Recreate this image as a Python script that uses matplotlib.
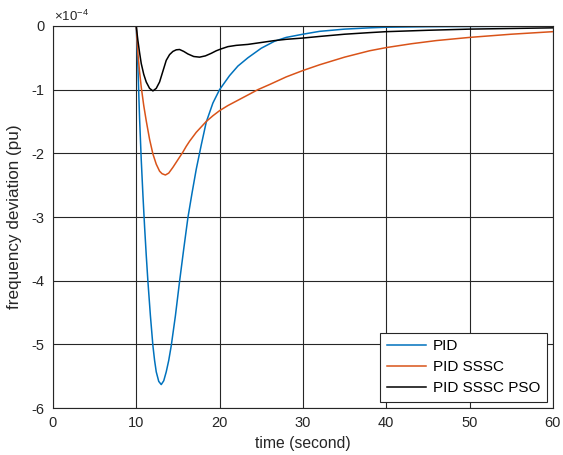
import matplotlib.pyplot as plt
import numpy as np

plt.rcParams['font.family'] = ['Liberation Sans', 'DejaVu Sans']
plt.rcParams['axes.unicode_minus'] = False
plt.rcParams['mathtext.fontset'] = 'custom'
plt.rcParams['mathtext.rm'] = 'Liberation Sans'
plt.rcParams['mathtext.it'] = 'Liberation Sans'

# frequency deviation values (x1e-4 pu)
t_pid = [0, 10, 10.2, 10.4, 10.6, 10.8, 11.0, 11.2, 11.4, 11.7, 12.0, 12.2, 12.4, 12.7,
         13.0, 13.3, 13.6, 13.9, 14.2, 14.7, 15.2, 15.7, 16.2, 16.7, 17.2, 17.8, 18.4,
         19.2, 20.0, 21.2, 22.2, 23.4, 25.0, 26.6, 28.0, 30, 32, 35, 38, 40, 45, 50, 55, 60]
pid = [0, 0, -0.65, -1.45, -2.1, -2.65, -3.15, -3.6, -4.01, -4.55, -5.02, -5.25, -5.43, -5.58,
       -5.63, -5.57, -5.43, -5.25, -5.02, -4.55, -4.01, -3.5, -3.01, -2.62, -2.25, -1.87, -1.51,
       -1.21, -1.0, -0.78, -0.63, -0.50, -0.35, -0.24, -0.18, -0.13, -0.085, -0.05, -0.03, -0.02,
       -0.012, -0.008, -0.005, -0.004]

t_sssc = [0, 10, 10.2, 10.4, 10.6, 10.9, 11.2, 11.6, 12.0, 12.4, 12.8, 13.1, 13.5, 13.9,
          14.4, 15.0, 15.6, 16.0, 16.4, 17.2, 18.4, 19.2, 20.0, 21.0, 22.3, 23.6, 24.6, 26, 28,
          30, 32, 35, 38, 40, 43, 46, 50, 55, 60]
sssc = [0, 0, -0.44, -0.72, -0.96, -1.25, -1.49, -1.78, -2.01, -2.17, -2.28, -2.32, -2.34, -2.31,
        -2.22, -2.10, -1.98, -1.89, -1.81, -1.67, -1.50, -1.41, -1.33, -1.25, -1.16, -1.07, -1.0,
        -0.92, -0.80, -0.70, -0.61, -0.49, -0.39, -0.34, -0.28, -0.23, -0.18, -0.13, -0.09]

t_pso = [0, 10, 10.1, 10.2, 10.4, 10.6, 10.9, 11.2, 11.6, 12.0, 12.4, 12.8, 13.2, 13.6,
         14.0, 14.4, 14.8, 15.2, 15.7, 16.2, 16.9, 17.6, 18.3, 19.0, 19.6, 20.2, 21.0, 22,
         23.4, 25, 26.6, 28, 30, 32, 35, 38, 40, 45, 50, 55, 60]
pso = [0, 0, -0.12, -0.23, -0.42, -0.59, -0.76, -0.88, -0.98, -1.02, -0.98, -0.88, -0.71, -0.54,
       -0.45, -0.40, -0.375, -0.37, -0.40, -0.44, -0.48, -0.49, -0.47, -0.43, -0.39, -0.36,
       -0.325, -0.305, -0.29, -0.26, -0.23, -0.21, -0.19, -0.165, -0.13, -0.105, -0.09,
       -0.068, -0.05, -0.04, -0.03]

fig = plt.figure(figsize=(5.63, 4.55), dpi=100)
ax = fig.add_axes([0.094, 0.103, 0.888, 0.84])

ax.plot(t_pid, pid, color='#0072BD', lw=1.1, label='PID')
ax.plot(t_sssc, sssc, color='#D95319', lw=1.1, label='PID SSSC')
ax.plot(t_pso, pso, color='black', lw=1.1, label='PID SSSC PSO')

ax.set_xlim(0, 60)
ax.set_ylim(-6, 0)
ax.set_xticks(np.arange(0, 61, 10))
ax.set_yticks(np.arange(-6, 1, 1))
ax.grid(True, color='#262626', lw=0.8)
ax.set_axisbelow(True)
for s in ax.spines.values():
    s.set_color('#262626')
    s.set_linewidth(0.8)
ax.tick_params(labelsize=10.5, colors='#262626', direction='in', length=0)
ax.tick_params(axis='x', pad=6)
ax.tick_params(axis='y', pad=6)

ax.set_xlabel('time (second)', fontsize=11.3, color='#262626', labelpad=4)
ax.set_ylabel('frequency deviation (pu)', fontsize=12.3, color='#262626', labelpad=7)
ax.text(0.002, 1.004, r'$\times10^{-4}$', transform=ax.transAxes, fontsize=9.5,
        ha='left', va='bottom', color='#262626')

leg = ax.legend(loc='lower right', fontsize=11, fancybox=False, framealpha=1,
                edgecolor='#262626', handlelength=2.6, handletextpad=0.4,
                labelspacing=0.45, borderpad=0.45, borderaxespad=0.4)
leg.get_frame().set_linewidth(0.8)

fig.savefig('out.png', dpi=100)
